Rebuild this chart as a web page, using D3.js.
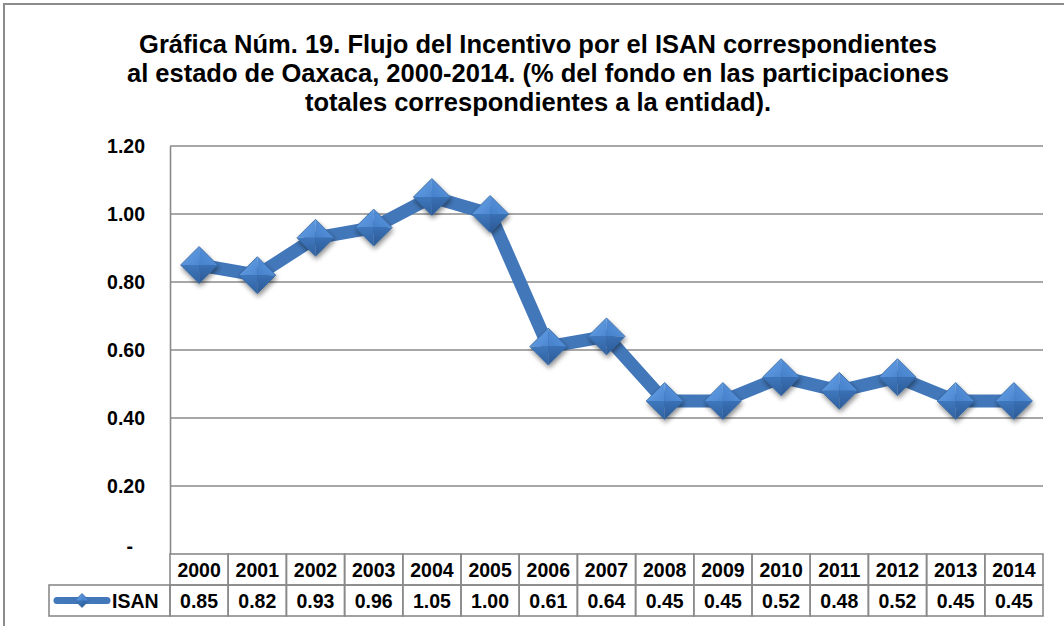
<!DOCTYPE html>
<html><head><meta charset="utf-8">
<script src="https://cdn.jsdelivr.net/npm/d3@7"></script>
<style>
html,body{margin:0;padding:0;background:#fff;}
svg{display:block;font-family:"Liberation Sans",Arial,sans-serif;}
</style></head><body>
<svg id="chart" width="1064" height="626"></svg>
<script>
const titleLines = ["Gráfica Núm. 19. Flujo del Incentivo por el ISAN correspondientes",
  "al estado de Oaxaca, 2000-2014. (% del fondo en las participaciones",
  "totales correspondientes a la entidad)."];
const years = ["2000","2001","2002","2003","2004","2005","2006","2007","2008","2009","2010","2011","2012","2013","2014"];
const isan = [0.85,0.82,0.93,0.96,1.05,1.00,0.61,0.64,0.45,0.45,0.52,0.48,0.52,0.45,0.45];
const yTicks = [0,0.2,0.4,0.6,0.8,1.0,1.2];
const seriesName = "ISAN";

(function(){
const svg = d3.select("#chart");
const pL = 170, pR = 1043, pT = 146, pB = 554;
const rowH = 31;
const fs = 19.5;

// outer frame
svg.append("rect").attr("x",4).attr("y",4).attr("width",1080).attr("height",640)
  .attr("fill","#fff").attr("stroke","#8c8c8c").attr("stroke-width",2);

// title
svg.append("g").selectAll("text").data(titleLines).join("text")
  .attr("x",538).attr("y",(d,i)=>53+i*29)
  .attr("text-anchor","middle").attr("font-weight","bold").attr("font-size",25.5)
  .attr("fill","#000").text(d=>d);

const x = d3.scaleBand().domain(years).range([pL,pR]);
const y = d3.scaleLinear().domain([0,1.2]).range([pB,pT]);

// gridlines
svg.append("g").selectAll("line").data(yTicks.filter(d=>d>0)).join("line")
  .attr("x1",pL).attr("x2",pR).attr("y1",d=>y(d)).attr("y2",d=>y(d))
  .attr("stroke","#8a8a8a").attr("stroke-width",1.6);

// y axis
const yAxis = d3.axisLeft(y).tickValues(yTicks).tickSize(0).tickPadding(25)
  .tickFormat(d=>d===0?"-":d3.format(".2f")(d));
const ga = svg.append("g").attr("transform",`translate(${pL},0)`).call(yAxis);
ga.select(".domain").attr("stroke","#8a8a8a").attr("stroke-width",1.6);
ga.selectAll("text").attr("font-size",fs).attr("font-weight","bold").attr("fill","#000")
  .attr("font-family","Liberation Sans, Arial, sans-serif");
ga.selectAll(".tick").filter(d=>d===0).select("text").attr("dy","-0.1em").attr("x",-37);

// defs: gradients and shadow
const defs = svg.append("defs");
const f = defs.append("filter").attr("id","sh").attr("x","-50%").attr("y","-50%").attr("width","200%").attr("height","200%");
f.append("feGaussianBlur").attr("in","SourceAlpha").attr("stdDeviation",2.5).attr("result","b");
f.append("feOffset").attr("in","b").attr("dx",1).attr("dy",3).attr("result","o");
f.append("feComponentTransfer").attr("in","o").attr("result","o2")
  .append("feFuncA").attr("type","linear").attr("slope",0.45);
const fm = f.append("feMerge");
fm.append("feMergeNode").attr("in","o2");
fm.append("feMergeNode").attr("in","SourceGraphic");

function grad(id, c1, c2, x1,y1,x2,y2){
  const g = defs.append("linearGradient").attr("id",id)
    .attr("x1",x1).attr("y1",y1).attr("x2",x2).attr("y2",y2);
  g.append("stop").attr("offset","0%").attr("stop-color",c1);
  g.append("stop").attr("offset","100%").attr("stop-color",c2);
}
grad("gTL","#6aa5ea","#4c87d0","0","0","1","1");
grad("gTR","#5f9ae2","#4580ca","1","0","0","1");
grad("gBL","#3f77bd","#2f619f","0","0","0","1");
grad("gBR","#3a70b5","#2b5a95","0","0","0","1");

// line
const line = d3.line().x((d,i)=>x(years[i])+x.bandwidth()/2).y(d=>y(d));
svg.append("path").datum(isan).attr("d",line).attr("fill","none")
  .attr("stroke","#4277b9").attr("stroke-width",13).attr("stroke-linejoin","round");

function diamond(g, s){
  g.append("path").attr("d",`M${-s},0L0,${-s}L0,0Z`).attr("fill","url(#gTL)");
  g.append("path").attr("d",`M0,${-s}L${s},0L0,0Z`).attr("fill","url(#gTR)");
  g.append("path").attr("d",`M${-s},0L0,${s}L0,0Z`).attr("fill","url(#gBL)");
  g.append("path").attr("d",`M0,${s}L${s},0L0,0Z`).attr("fill","url(#gBR)");
  g.append("path").attr("d",`M${-s},0L0,${-s}L${s},0L0,${s}Z`).attr("fill","none")
    .attr("stroke","#35669f").attr("stroke-width",0.8);
}
svg.append("g").selectAll("g").data(isan).join("g")
  .attr("transform",(d,i)=>`translate(${x(years[i])+x.bandwidth()/2},${y(d)})`)
  .attr("filter","url(#sh)")
  .each(function(){ diamond(d3.select(this),18.5); });

// data table
const tb = svg.append("g");
const legL = 49;
tb.selectAll("rect.h").data(years).join("rect").attr("class","h")
  .attr("x",d=>x(d)).attr("y",pB).attr("width",x.bandwidth()).attr("height",rowH)
  .attr("fill","none").attr("stroke","#8a8a8a").attr("stroke-width",1.6);
tb.selectAll("rect.v").data(years).join("rect").attr("class","v")
  .attr("x",d=>x(d)).attr("y",pB+rowH).attr("width",x.bandwidth()).attr("height",rowH)
  .attr("fill","none").attr("stroke","#8a8a8a").attr("stroke-width",1.6);
tb.append("rect").attr("x",legL).attr("y",pB+rowH).attr("width",pL-legL).attr("height",rowH)
  .attr("fill","none").attr("stroke","#8a8a8a").attr("stroke-width",1.6);
tb.selectAll("text.h").data(years).join("text").attr("class","h")
  .attr("x",d=>x(d)+x.bandwidth()/2).attr("y",pB+rowH/2+7)
  .attr("text-anchor","middle").attr("font-size",fs).attr("font-weight","bold").text(d=>d);
tb.selectAll("text.v").data(isan).join("text").attr("class","v")
  .attr("x",(d,i)=>x(years[i])+x.bandwidth()/2).attr("y",pB+rowH*1.5+7)
  .attr("text-anchor","middle").attr("font-size",fs).attr("font-weight","bold")
  .text(d=>d3.format(".2f")(d));
// legend key
const ly = pB+rowH*1.5;
tb.append("line").attr("x1",57).attr("x2",107).attr("y1",ly).attr("y2",ly)
  .attr("stroke","#4277b9").attr("stroke-width",7).attr("stroke-linecap","round");
const lg = tb.append("g").attr("transform",`translate(82,${ly})`);
diamond(lg,7);
tb.append("text").attr("x",112).attr("y",ly+7).attr("font-size",fs).attr("font-weight","bold").text(seriesName);
})();
</script>
</body></html>
